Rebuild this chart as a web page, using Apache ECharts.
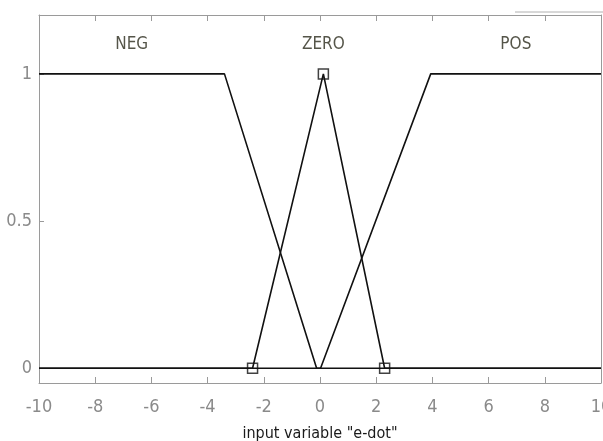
<!DOCTYPE html>
<html>
<head>
<meta charset="utf-8">
<script src="https://cdn.jsdelivr.net/npm/echarts@6/dist/echarts.min.js"></script>
<style>
html,body{margin:0;padding:0;background:#fff;}
#chart{width:603px;height:441px;}
</style>
</head>
<body>
<div id="chart"></div>
<script>
// Membership function breakpoints (x, membership)
const negX = [-10, -3.4, -0.12, 10];
const negY = [1, 1, 0, 0];
const zeroX = [-10, -2.4, 0.12, 2.3, 10];
const zeroY = [0, 0, 1, 0, 0];
const posX = [-10, 0.02, 3.94, 10];
const posY = [0, 0, 1, 1];
// Vertices marked with squares (selected MF "ZERO")
const markX = [-2.4, 0.12, 2.3];
const markY = [0, 1, 0];
// MF names and label anchor positions
const mfNames = ['NEG', 'ZERO', 'POS'];
const mfLabelX = [-6.7, 0.12, 6.97];
const mfLabelY = [1.1, 1.1, 1.1];
const xTicks = [-10, -8, -6, -4, -2, 0, 2, 4, 6, 8, 10];
const yTicks = [0, 0.5, 1];
const xTitle = 'input variable "e-dot"';

const zip = (a, b) => a.map((v, i) => [v, b[i]]);
const FONT = '"Liberation Sans Narrow", "DejaVu Sans Condensed", "Liberation Sans", Arial, sans-serif';
const AX = '#9a9a9a';

const chart = echarts.init(document.getElementById('chart'), null, {renderer: 'canvas'});
const lineStyle = {color: '#111', width: 1.6};
chart.setOption({
  animation: false,
  backgroundColor: '#fff',
  grid: {left: 39, right: 2, top: 15, bottom: 58, containLabel: false, outerBoundsMode: 'none'},
  xAxis: [{
    type: 'value', min: -10, max: 10, interval: 2, position: 'bottom',
    axisLine: {show: true, onZero: false, lineStyle: {color: AX, width: 1}},
    axisTick: {show: true, inside: true, length: 6, lineStyle: {color: AX}},
    axisLabel: {color: '#8a8a8a', fontFamily: FONT, fontSize: 18, margin: 15,
      customValues: xTicks},
    splitLine: {show: false},
    name: xTitle, nameLocation: 'middle', nameGap: 43,
    nameTextStyle: {color: '#1a1a1a', fontFamily: FONT, fontSize: 16}
  }, {
    type: 'value', min: -10, max: 10, interval: 2, position: 'top',
    axisLine: {show: true, onZero: false, lineStyle: {color: AX, width: 1}},
    axisTick: {show: true, inside: true, length: 6, lineStyle: {color: AX}},
    axisLabel: {show: false}, splitLine: {show: false}
  }],
  yAxis: [{
    type: 'value', min: -0.05, max: 1.2, position: 'left',
    axisLine: {show: true, onZero: false, lineStyle: {color: AX, width: 1}},
    axisTick: {show: true, inside: true, length: 5, lineStyle: {color: AX}, customValues: yTicks},
    axisLabel: {color: '#8a8a8a', fontFamily: FONT, fontSize: 18, margin: 7, customValues: yTicks},
    splitLine: {show: false}
  }, {
    type: 'value', min: -0.05, max: 1.2, position: 'right',
    axisLine: {show: true, onZero: false, lineStyle: {color: AX, width: 1}},
    axisTick: {show: false}, axisLabel: {show: false}, splitLine: {show: false}
  }],
  series: [
    {type: 'line', data: zip(negX, negY), showSymbol: false, symbol: 'none', lineStyle, z: 3},
    {type: 'line', data: zip(zeroX, zeroY), showSymbol: false, symbol: 'none', lineStyle, z: 3},
    {type: 'line', data: zip(posX, posY), showSymbol: false, symbol: 'none', lineStyle, z: 3},
    {type: 'scatter', data: zip(markX, markY), symbol: 'rect', symbolSize: 10,
      itemStyle: {color: 'rgba(255,255,255,0)', borderColor: '#111', borderWidth: 1.5}, z: 4},
    {type: 'scatter', data: mfNames.map((n, i) => ({name: n, value: [mfLabelX[i], mfLabelY[i]]})),
      symbolSize: 0,
      label: {show: true, position: 'inside', formatter: p => p.name,
        color: '#2b2a1c', fontFamily: FONT, fontSize: 17}, z: 5}
  ],
  graphic: [{
    type: 'line', shape: {x1: 515, y1: 12, x2: 603, y2: 12},
    style: {stroke: '#b0b0b0', lineWidth: 1}
  }]
});
</script>
</body>
</html>
